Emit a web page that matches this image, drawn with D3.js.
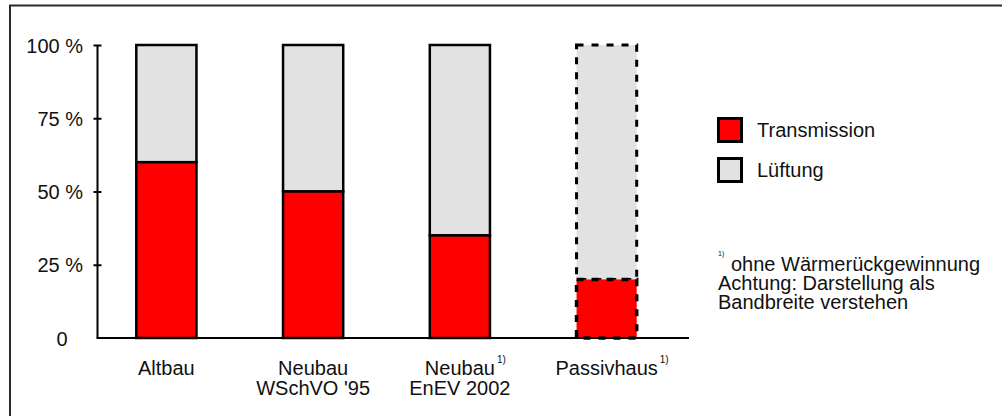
<!DOCTYPE html>
<html>
<head>
<meta charset="utf-8">
<script src="https://cdn.jsdelivr.net/npm/d3@7"></script>
<style>
  html, body { margin: 0; padding: 0; background: #fff; }
  svg { display: block; }
  text { font-family: "Liberation Sans", Arial, sans-serif; fill: #111; }
</style>
</head>
<body>
<svg id="chart" width="1002" height="416"></svg>
<script>
// ---- data ----
const categories = ["Altbau", "Neubau WSchVO '95", "Neubau EnEV 2002", "Passivhaus"];
const categoryLines = [["Altbau"], ["Neubau", "WSchVO '95"], ["Neubau", "EnEV 2002"], ["Passivhaus"]];
const categoryFootnote = [false, false, true, true];
const transmission = [60, 50, 35, 20];
const lueftung = [40, 50, 65, 80];
const dashed = [false, false, false, true];
const seriesNames = ["Transmission", "Lüftung"];
const seriesColors = ["#ff0000", "#e2e2e2"];
const yTicks = [0, 25, 50, 75, 100];
const yTickLabels = ["0", "25 %", "50 %", "75 %", "100 %"];
const noteLines = ["ohne Wärmerückgewinnung", "Achtung: Darstellung als", "Bandbreite verstehen"];

const svg = d3.select("#chart");
const FS = 20;

// outer frame (only top/left visible)
svg.append("rect").attr("x", 10).attr("y", 5.5).attr("width", 1100).attr("height", 500)
  .attr("fill", "none").attr("stroke", "#2a2a2a").attr("stroke-width", 2);

const y = d3.scaleLinear().domain([0, 100]).range([338, 45]);
const x = d3.scaleBand().domain(categories).range([93, 680]).paddingInner(0.59).paddingOuter(0.295);
const axisX = 97.5;

// bars
const stackData = categories.map((c, i) => ({c, i, segs: [
  {s: 0, y0: 0, y1: transmission[i]},
  {s: 1, y0: transmission[i], y1: transmission[i] + lueftung[i]}
]}));

const g = svg.append("g");
stackData.forEach(d => {
  [1, 0].forEach(k => {
    const seg = d.segs[k];
    const r = g.append("rect")
      .attr("x", x(d.c))
      .attr("y", y(seg.y1))
      .attr("width", x.bandwidth())
      .attr("height", y(seg.y0) - y(seg.y1))
      .attr("fill", seriesColors[seg.s])
      .attr("stroke", "#000");
    if (dashed[d.i]) {
      r.attr("stroke-width", seg.s === 0 ? 3.5 : 3).attr("stroke-dasharray", "7,8");
    } else {
      r.attr("stroke-width", 2.5);
    }
  });
});

// y axis
const yAxis = d3.axisLeft(y).tickValues(yTicks).tickSize(4).tickPadding(0)
  .tickFormat((d, i) => yTickLabels[i]);
const ya = svg.append("g").attr("transform", `translate(${axisX},0)`).call(yAxis);
ya.select(".domain").remove();
ya.selectAll(".tick line").attr("x1", 4).attr("stroke", "#000").attr("stroke-width", 2)
  .filter(d => d === 0).remove();
ya.selectAll(".tick text")
  .attr("x", d => d === 0 ? -30 : -14.5)
  .attr("dy", "0.35em")
  .style("font-size", FS + "px")
  .attr("fill", "#111");
ya.attr("font-size", null).attr("font-family", null);

svg.append("line").attr("x1", axisX).attr("x2", axisX).attr("y1", y(100)).attr("y2", y(0))
  .attr("stroke", "#000").attr("stroke-width", 2);
svg.append("line").attr("x1", axisX - 1).attr("x2", 689).attr("y1", y(0)).attr("y2", y(0))
  .attr("stroke", "#000").attr("stroke-width", 2);

// category labels
categories.forEach((c, i) => {
  const cx = x(c) + x.bandwidth() / 2;
  let first = null;
  categoryLines[i].forEach((ln, j) => {
    const t = svg.append("text").attr("x", cx).attr("y", 375 + j * 20)
      .attr("text-anchor", "middle").style("font-size", FS + "px").text(ln);
    if (j === 0) first = t;
  });
  if (categoryFootnote[i]) {
    const w = first.node().getComputedTextLength();
    svg.append("text").attr("x", cx + w / 2 + 2).attr("y", 363)
      .style("font-size", "10px").text("1)");
  }
});

// legend
const legY = [130, 170];
seriesNames.forEach((n, i) => {
  svg.append("rect").attr("x", 718.5).attr("y", legY[i] - 11.5).attr("width", 23).attr("height", 23)
    .attr("fill", seriesColors[i]).attr("stroke", "#000").attr("stroke-width", 3);
  svg.append("text").attr("x", 757).attr("y", legY[i] + 7).style("font-size", FS + "px").text(n);
});

// footnote
svg.append("text").attr("x", 718).attr("y", 256).style("font-size", "7px").text("1)");
noteLines.forEach((ln, i) => {
  svg.append("text").attr("x", i === 0 ? 731 : 718).attr("y", [271, 290, 309][i])
    .style("font-size", FS + "px").text(ln);
});
</script>
</body>
</html>
